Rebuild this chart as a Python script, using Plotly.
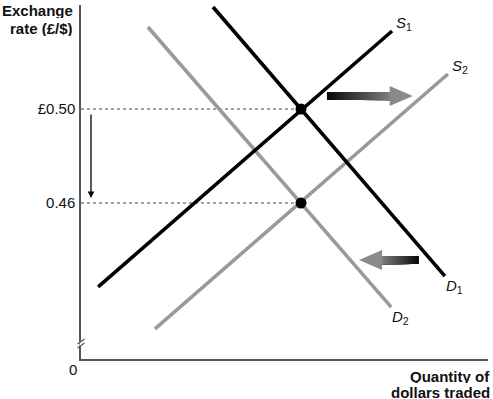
import plotly.graph_objects as go

# ---- data (quantity in arbitrary units, exchange rate in £/$) ----
tick_vals = [0.46, 0.50]
tick_text = ["0.46", "£0.50"]
eq_q = [50, 50]
eq_p = [0.50, 0.46]

s1_q = [3.9, 70.7]
s1_p = [0.4243, 0.5332]
s2_q = [16.8, 83.4]
s2_p = [0.4064, 0.5149]
d1_q = [30.0, 82.7]
d1_p = [0.5434, 0.4289]
d2_q = [15.2, 70.5]
d2_p = [0.5349, 0.4157]

X_RANGE = [0, 92.5]
Y_RANGE = [0.39362, 0.54426]
PX_X = 4.4            # pixels per quantity unit
PX_Y = 1 / 0.000425532  # pixels per £
PLOT_W, PLOT_H, LEFT, TOP = 407, 354, 81, 5

BLACK = "#000000"
GREY = "#9a9a9a"

fig = go.Figure()

def line(q, p, color, name):
    fig.add_trace(go.Scatter(x=q, y=p, mode="lines", name=name,
                             line=dict(color=color, width=3.6),
                             hoverinfo="skip", showlegend=False))

# dotted guides
for p in eq_p:
    fig.add_trace(go.Scatter(x=[0, eq_q[0]], y=[p, p], mode="lines",
                             line=dict(color="#444", width=1, dash="dot"),
                             hoverinfo="skip", showlegend=False))

line(d2_q, d2_p, GREY, "D2")
line(s2_q, s2_p, GREY, "S2")
line(s1_q, s1_p, BLACK, "S1")
line(d1_q, d1_p, BLACK, "D1")

fig.add_trace(go.Scatter(x=eq_q, y=eq_p, mode="markers",
                         marker=dict(color="black", size=11),
                         hoverinfo="skip", showlegend=False))

shapes = []

def grad_arrow(q_tail, q_tip, p, n=40):
    body_h = 4 / PX_Y
    head_h = 10 / PX_Y
    head_len = 23 / PX_X
    direction = 1 if q_tip > q_tail else -1
    q_body_end = q_tip - direction * head_len
    for i in range(n):
        a = q_tail + (q_body_end - q_tail) * i / n
        t = i / (n - 1)
        c = int(10 + t * (125 - 10))
        col = f"rgb({c},{c},{c})"
        shapes.append(dict(type="rect", xref="x", yref="y",
                           x0=min(a, q_body_end + direction * 0.3),
                           x1=max(a, q_body_end + direction * 0.3),
                           y0=p - body_h, y1=p + body_h,
                           fillcolor=col, line=dict(width=0), layer="above"))
    path = (f"M {q_body_end},{p - head_h} L {q_tip},{p} "
            f"L {q_body_end},{p + head_h} Z")
    shapes.append(dict(type="path", xref="x", yref="y", path=path,
                       fillcolor="rgb(138,138,138)", line=dict(width=0),
                       layer="above"))

grad_arrow(55.9, 75.4, 0.5055)
grad_arrow(76.8, 63.2, 0.4357)

# gap on the axis
shapes.append(dict(type="line", xref="paper", yref="paper",
                   x0=0, x1=0, y0=12.5 / PLOT_H, y1=17.5 / PLOT_H,
                   line=dict(color="white", width=3)))
# axis break marks
for dy in [0, 4]:
    yc = (17.5 - dy) / PLOT_H
    shapes.append(dict(type="line", xref="paper", yref="paper",
                       x0=-3.5 / PLOT_W, x1=3.5 / PLOT_W,
                       y0=yc - 2.5 / PLOT_H, y1=yc + 2.5 / PLOT_H,
                       line=dict(color="#555", width=1.2)))

fig.update_layout(shapes=shapes)

def px_x(px):
    return (px - LEFT) / PLOT_W

def px_y(py):
    return (TOP + PLOT_H - py) / PLOT_H

tfont = dict(size=15, color="#111")
annotations = [
    dict(x=2.27, y=0.4621, ax=2.27, ay=0.4983, xref="x", yref="y",
         axref="x", ayref="y", showarrow=True, arrowhead=2, arrowsize=1,
         arrowwidth=1.3, arrowcolor="black", text=""),
    dict(x=px_x(75), y=px_y(11), xref="paper", yref="paper", xanchor="right",
         yanchor="middle", showarrow=False, text="<b>Exchange</b>", font=tfont,
         height=15),
    dict(x=px_x(75), y=px_y(28), xref="paper", yref="paper", xanchor="right",
         yanchor="middle", showarrow=False, text="<b>rate (£/$)</b>", font=tfont,
         height=15),
    dict(x=px_x(492), y=px_y(376), xref="paper", yref="paper", xanchor="right",
         yanchor="middle", showarrow=False, text="<b>Quantity of</b>", font=tfont,
         height=14),
    dict(x=px_x(492), y=px_y(392), xref="paper", yref="paper", xanchor="right",
         yanchor="middle", showarrow=False, text="<b>dollars traded</b>", font=tfont,
         height=14),
    dict(x=px_x(73), y=px_y(369), xref="paper", yref="paper", xanchor="center",
         yanchor="middle", showarrow=False, text="0", font=tfont),
]
label_font = dict(size=15, color="#111")
for q, p, t in [(s1_q[1], s1_p[1], "<i>S</i><sub>1</sub>"),
                (s2_q[1], s2_p[1], "<i>S</i><sub>2</sub>"),
                (d1_q[1], d1_p[1], "<i>D</i><sub>1</sub>"),
                (d2_q[1], d2_p[1], "<i>D</i><sub>2</sub>")]:
    if t.startswith("<i>S"):
        annotations.append(dict(x=q, y=p, xref="x", yref="y", showarrow=False,
                                text=t, xanchor="left", yanchor="bottom",
                                xshift=2, yshift=-4, font=label_font))
    else:
        annotations.append(dict(x=q, y=p, xref="x", yref="y", showarrow=False,
                                text=t, xanchor="left", yanchor="top",
                                xshift=-1, yshift=1, font=label_font))

fig.update_layout(
    annotations=annotations,
    width=493, height=399,
    margin=dict(l=LEFT, r=493 - LEFT - PLOT_W, t=TOP, b=399 - TOP - PLOT_H),
    paper_bgcolor="white", plot_bgcolor="white",
    font=dict(family="Liberation Sans, Arial, sans-serif", size=15, color="#111"),
    xaxis=dict(range=X_RANGE, showgrid=False, zeroline=False, showticklabels=False,
               ticks="", showline=True, linecolor="#555", linewidth=1.5,
               fixedrange=True),
    yaxis=dict(range=Y_RANGE, showgrid=False, zeroline=False,
               tickvals=tick_vals, ticktext=tick_text, ticks="",
               ticklabelstandoff=1,
               showline=True, linecolor="#555", linewidth=1.5, fixedrange=True),
)

fig.write_html("out.html", config={"displayModeBar": False},
               post_script="document.body.style.margin='0';document.body.style.overflow='hidden';")
